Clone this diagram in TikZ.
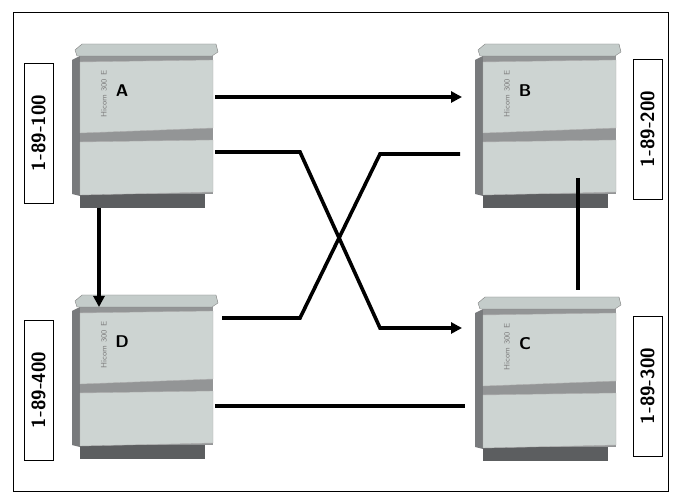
\documentclass[tikz,border=0pt]{standalone}
\usepackage{tikz}
\usetikzlibrary{arrows.meta, positioning}
\tikzset{
    link/.style={line width=3.6pt},
    arrow/.style={link, -{Triangle[length=11pt,width=11pt]}},
    numbox/.style={draw, thick, fill=white, rotate=90, minimum width=140pt, minimum height=29pt, inner sep=0pt, font=\sffamily\bfseries\fontsize{19}{20}\selectfont},
    letter/.style={font=\sffamily\bfseries\fontsize{17}{18}\selectfont}
}
\definecolor{lid}{RGB}{196,204,202}
\definecolor{panel}{RGB}{205,212,210}
\definecolor{side}{RGB}{120,122,124}
\definecolor{basec}{RGB}{92,94,96}
% one cabinet, shifted by #1, letter #2
\newcommand{\cabinet}[3]{
  \begin{scope}[shift={#1}]
    \fill[side] (0,16) -- (8,12) -- (8,152) -- (0,150) -- cycle;
    \fill[basec] (8,150) rectangle (133,164);
    \fill[side!80] (8,12) rectangle (141,150);
    \fill[lid, draw=gray] (3,6) -- (10,0) -- (144,0) -- (146,8) -- (140,12) -- (5,12) -- cycle;
    \fill[panel, draw=gray!60] (8,18) -- (141,16) -- (141,84) -- (8,89) -- cycle;
    \fill[panel, draw=gray!60] (8,98) -- (141,96) -- (141,148) -- (8,151) -- cycle;
    \node[letter] (#3) at (50,47) {#2};
    \node[rotate=90, font=\sffamily\fontsize{8}{9}\selectfont, text=gray] at (32,50) {Hicom 300 E};
  \end{scope}
}
\begin{document}
\begin{tikzpicture}[x=1pt, y=-1pt]
    \useasboundingbox (0,0) rectangle (680,502);
    \draw (13,12) rectangle (668,491);
    % cabinets
    \cabinet{(72,44)}{A}{a}
    \cabinet{(475,44)}{B}{b}
    \cabinet{(72,295)}{D}{d}
    \cabinet{(475,297)}{C}{c}
    % numbers
    \node[numbox] (na) at (38.5,133) {1-89-100};
    \node[numbox] (nb) at (647.5,129) {1-89-200};
    \node[numbox] (nd) at (38.5,390) {1-89-400};
    \node[numbox] (nc) at (647.5,386) {1-89-300};
    % connector ends
    \coordinate (aright) at (215,97);
    \coordinate (bleft) at (462,97);
    \coordinate (alow) at (215,152);
    \coordinate (cleft) at (462,328);
    \coordinate (blow) at (460,154);
    \coordinate (dright) at (222,318);
    \coordinate (abot) at (99,208);
    \coordinate (dtop) at (99,307);
    \coordinate (bbot) at (578,178);
    \coordinate (ctop) at (578,290);
    \coordinate (dlow) at (215,406);
    \coordinate (clow) at (465,406);
    % links
    \draw[arrow] (aright) -- (bleft);
    \draw[arrow] (alow) -- (300,152) -- (380,328) -- (cleft);
    \draw[link] (blow) -- (380,154) -- (300,318) -- (dright);
    \draw[arrow] (abot) -- (dtop);
    \draw[link] (bbot) -- (ctop);
    \draw[link] (dlow) -- (clow);
\end{tikzpicture}
\end{document}
